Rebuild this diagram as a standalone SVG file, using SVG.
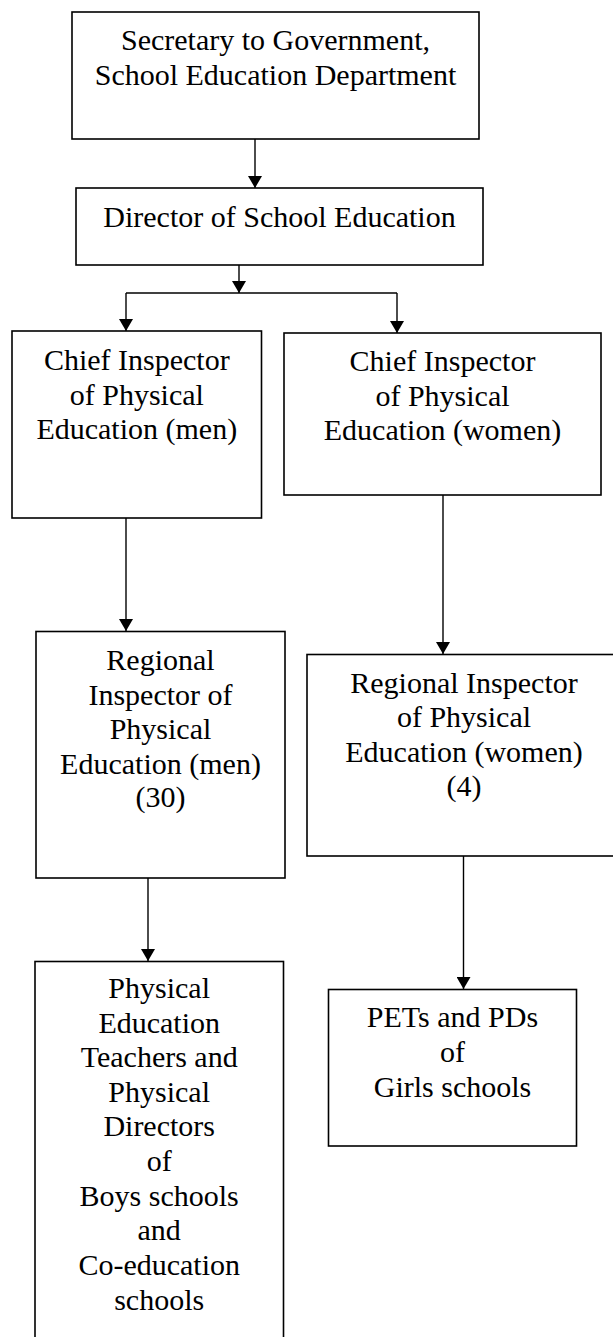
<svg xmlns="http://www.w3.org/2000/svg" width="613" height="1337" viewBox="0 0 613 1337">
<style>
.box{fill:#fff;stroke:#000;stroke-width:1.6}
.ln{fill:none;stroke:#000;stroke-width:1.4}
text{font-family:'Liberation Serif','Times New Roman',serif;font-size:30px;fill:#000;text-anchor:middle}
</style>
<defs>
<marker id="ah" markerUnits="userSpaceOnUse" markerWidth="13" markerHeight="14" refX="12" refY="7" orient="auto">
<path d="M0,0 L12,7 L0,14 Z" fill="#000"/>
</marker>
</defs>
<rect width="613" height="1337" fill="#fff"/>
<g id="connectors">
<line class="ln" x1="255" y1="139" x2="255" y2="188" marker-end="url(#ah)"/>
<line class="ln" x1="239" y1="265" x2="239" y2="293" marker-end="url(#ah)"/>
<line class="ln" x1="126" y1="293" x2="397" y2="293"/>
<line class="ln" x1="126" y1="293" x2="126" y2="331" marker-end="url(#ah)"/>
<line class="ln" x1="397" y1="293" x2="397" y2="333" marker-end="url(#ah)"/>
<line class="ln" x1="126" y1="518" x2="126" y2="631" marker-end="url(#ah)"/>
<line class="ln" x1="443" y1="495" x2="443" y2="654" marker-end="url(#ah)"/>
<line class="ln" x1="148" y1="878" x2="148" y2="961" marker-end="url(#ah)"/>
<line class="ln" x1="463.5" y1="852" x2="463.5" y2="989" marker-end="url(#ah)"/>
</g>
<g id="secretary">
<rect class="box" x="72" y="12" width="407" height="127"/>
<text x="275.5" y="50">Secretary to Government,</text>
<text x="275.5" y="84.5">School Education Department</text>
</g>
<g id="director">
<rect class="box" x="76" y="188" width="407" height="77"/>
<text x="279.5" y="227">Director of School Education</text>
</g>
<g id="chief-men">
<rect class="box" x="12" y="331" width="249.5" height="187"/>
<text x="136.8" y="370">Chief Inspector</text>
<text x="136.8" y="404.5">of Physical</text>
<text x="136.8" y="439">Education (men)</text>
</g>
<g id="chief-women">
<rect class="box" x="284" y="333" width="317" height="162"/>
<text x="442.5" y="371">Chief Inspector</text>
<text x="442.5" y="405.5">of Physical</text>
<text x="442.5" y="440">Education (women)</text>
</g>
<g id="regional-men">
<rect class="box" x="36" y="631.5" width="249" height="246.5"/>
<text x="160.5" y="670">Regional</text>
<text x="160.5" y="704.5">Inspector of</text>
<text x="160.5" y="739">Physical</text>
<text x="160.5" y="773.5">Education (men)</text>
<text x="160.5" y="807">(30)</text>
</g>
<g id="regional-women">
<rect class="box" x="307" y="654.5" width="314" height="201.5"/>
<text x="464" y="692.5">Regional Inspector</text>
<text x="464" y="727">of Physical</text>
<text x="464" y="761.5">Education (women)</text>
<text x="464" y="795.5">(4)</text>
</g>
<g id="teachers">
<rect class="box" x="35" y="961.5" width="248.5" height="390"/>
<text x="159.2" y="998">Physical</text>
<text x="159.2" y="1032.5">Education</text>
<text x="159.2" y="1067">Teachers and</text>
<text x="159.2" y="1101.5">Physical</text>
<text x="159.2" y="1136">Directors</text>
<text x="159.2" y="1171">of</text>
<text x="159.2" y="1205.5">Boys schools</text>
<text x="159.2" y="1240">and</text>
<text x="159.2" y="1275">Co-education</text>
<text x="159.2" y="1309.5">schools</text>
</g>
<g id="pets">
<rect class="box" x="328.5" y="989.5" width="248" height="156.5"/>
<text x="452.5" y="1026.5">PETs and PDs</text>
<text x="452.5" y="1061.5">of</text>
<text x="452.5" y="1096.5">Girls schools</text>
</g>
</svg>
